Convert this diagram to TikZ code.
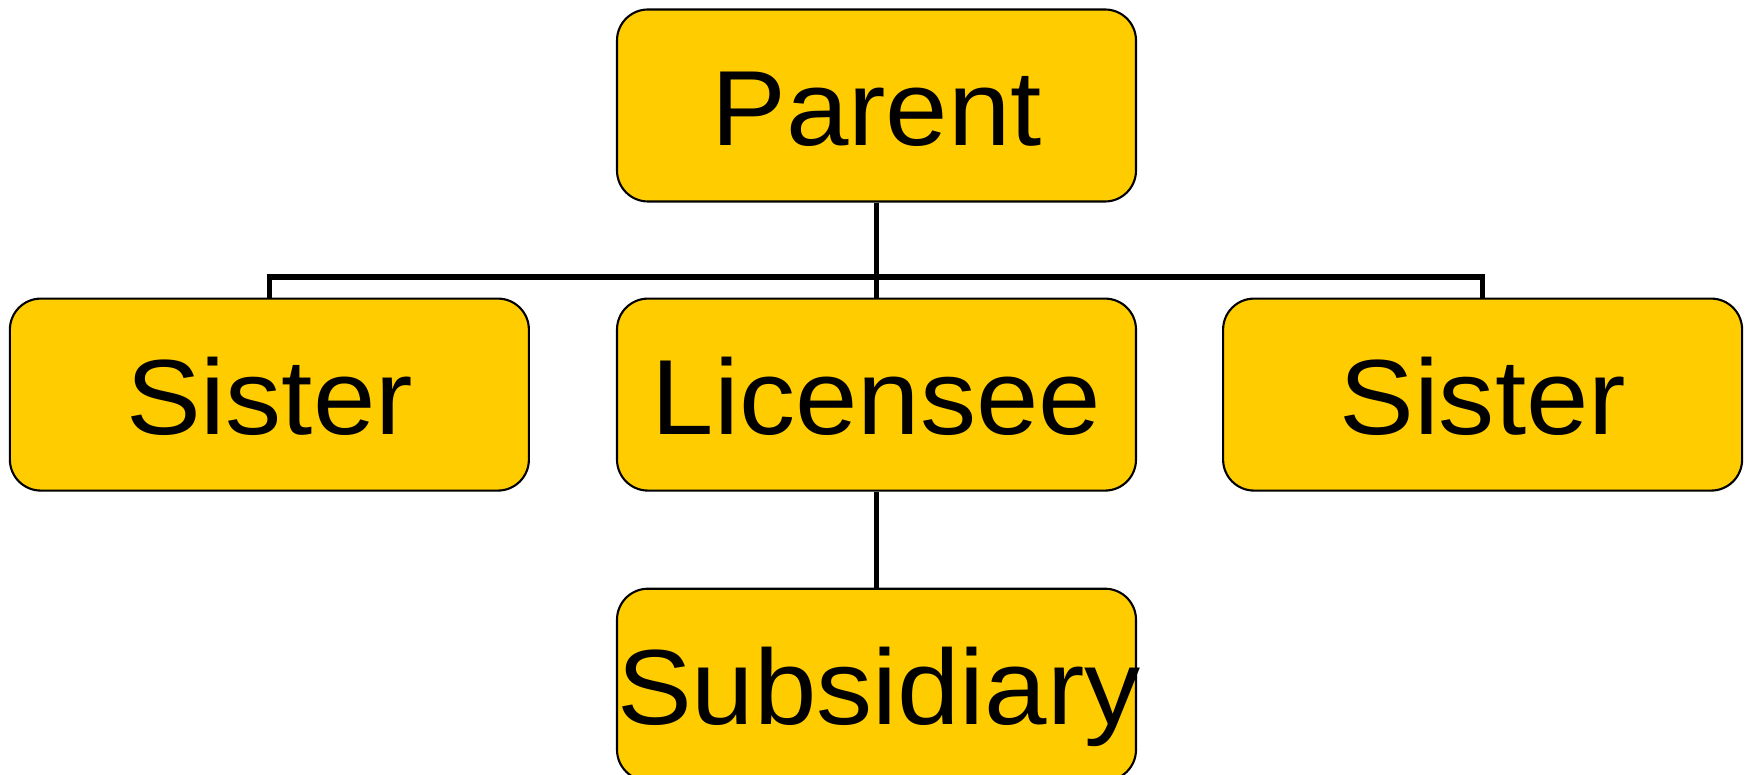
\documentclass[tikz,border=0pt]{standalone}
\usepackage{fontspec}
\setmainfont{Liberation Sans}[FakeStretch=1.05]
\usepackage{tikz}
\usetikzlibrary{positioning}
\definecolor{orgfill}{HTML}{FFCC00}
\definecolor{orgink}{HTML}{000000}
\tikzset{
  unit/.style = {rectangle, rounded corners=3.1mm, draw=orgink, line width=0.6pt,
                 fill=orgfill, text width=5.19cm, align=center, inner xsep=0pt,
                 inner ysep=0pt, text height=0.8cm, text depth=0cm,
                 minimum height=1.92cm, font=\fontsize{30.4}{32}\selectfont},
  link/.style = {draw=orgink, line width=1.5pt},
}
\begin{document}
\begin{tikzpicture}
\useasboundingbox (0,0) rectangle (17.46,-7.75);
\node[unit] (parent) at (8.765,-1.055) {Parent};
\node[unit, below=0.95cm of parent] (licensee) {Licensee};
\node[unit, left=0.86cm of licensee] (sisterl) {Sister};
\node[unit, right=0.85cm of licensee] (sisterr) {Sister};
\node[unit, below=0.96cm of licensee] (subsidiary) {Subsidiary};
% bus between the three children
\coordinate (bus) at ([yshift=2.05mm]licensee.north);
\draw[link] (parent.south) -- (licensee.north);
\draw[link] (sisterl.north) |- (bus) -| (sisterr.north);
\draw[link] (licensee.south) -- (subsidiary.north);
\end{tikzpicture}
\end{document}
